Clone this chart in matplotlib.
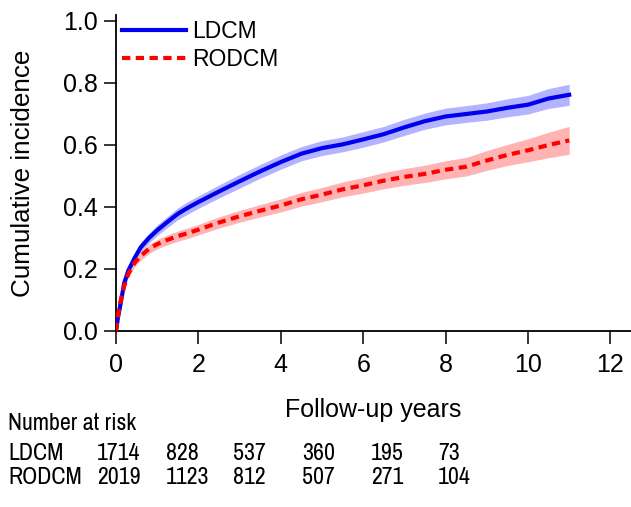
import matplotlib
matplotlib.use("Agg")
import matplotlib.pyplot as plt
from matplotlib import font_manager
import numpy as np

# ---- data ----
times = [0, 0.05, 0.1, 0.2, 0.3, 0.45, 0.6, 0.8, 1.0, 1.25, 1.5, 1.75, 2.0, 2.5, 3.0,
         3.5, 4.0, 4.5, 5.0, 5.5, 6.0, 6.5, 7.0, 7.5, 8.0, 8.5, 9.0, 9.5, 10.0, 10.5, 11.0]
ldcm = [0, 0.045, 0.08, 0.155, 0.195, 0.235, 0.27, 0.30, 0.325, 0.352, 0.378, 0.398, 0.416,
        0.45, 0.483, 0.515, 0.545, 0.572, 0.59, 0.602, 0.618, 0.635, 0.657, 0.677, 0.692,
        0.70, 0.708, 0.72, 0.73, 0.75, 0.762]
rodcm = [0, 0.05, 0.09, 0.145, 0.185, 0.22, 0.242, 0.265, 0.28, 0.294, 0.306, 0.316, 0.327,
         0.35, 0.37, 0.388, 0.405, 0.425, 0.44, 0.457, 0.47, 0.485, 0.497, 0.507, 0.52,
         0.53, 0.55, 0.568, 0.583, 0.60, 0.615]
ldcm_hw = [0, 0.008, 0.01, 0.012, 0.013, 0.014, 0.015, 0.016, 0.017, 0.018, 0.019, 0.02, 0.02,
           0.021, 0.022, 0.022, 0.023, 0.023, 0.024, 0.024, 0.025, 0.025, 0.026, 0.026, 0.027,
           0.027, 0.028, 0.029, 0.03, 0.032, 0.034]
rodcm_hw = [0, 0.008, 0.01, 0.011, 0.012, 0.013, 0.014, 0.015, 0.015, 0.016, 0.016, 0.017,
            0.017, 0.018, 0.019, 0.02, 0.021, 0.022, 0.023, 0.024, 0.025, 0.026, 0.027,
            0.028, 0.029, 0.03, 0.032, 0.034, 0.037, 0.041, 0.045]
groups = ["LDCM", "RODCM"]
risk_ldcm = [1714, 828, 537, 360, 195, 73]
risk_rodcm = [2019, 1123, 812, 507, 271, 104]

xticks = [0, 2, 4, 6, 8, 10, 12]
yticks = [0.0, 0.2, 0.4, 0.6, 0.8, 1.0]

# ---- fonts ----
flist = font_manager.fontManager.ttflist
names = {f.name for f in flist}
main_font = "Liberation Sans" if "Liberation Sans" in names else "DejaVu Sans"
narrow = [f.name for f in flist if ('Narrow' in f.name or 'Condensed' in f.name)
          and 'Bold' not in f.style]
if "Liberation Sans Narrow" in names:
    narrow_font, table_size = "Liberation Sans Narrow", 17
elif narrow:
    narrow_font, table_size = sorted(narrow)[0], 17.2
else:
    narrow_font, table_size = main_font, 14.2
plt.rcParams['font.family'] = [main_font, 'DejaVu Sans']

W, H = 631, 507
fig = plt.figure(figsize=(W / 100, H / 100), dpi=100)
ax = fig.add_axes([116 / W, (H - 331) / H, 1 - 116 / W, (331 - 14.8) / H])

t = np.array(times)
for vals, hw, band in [(ldcm, ldcm_hw, '#b3b3ff'), (rodcm, rodcm_hw, '#ffb3b3')]:
    v = np.array(vals); h = np.array(hw)
    ax.fill_between(t, v - h, v + h, color=band, lw=0, zorder=1)

l1, = ax.plot(t, ldcm, color='#0000ee', lw=3.0, zorder=3, label=groups[0])
l2, = ax.plot(t, rodcm, color='#ff0000', lw=3.0, ls=(0, (2.0, 1.3)), zorder=4, label=groups[1])

ax.set_xlim(0, 12.5)
ax.set_ylim(0, 1.02)
ax.set_xticks(xticks)
ax.set_yticks(yticks)
ax.set_xticklabels([str(x) for x in xticks])
ax.set_yticklabels([f"{y:.1f}" for y in yticks])
for s in ['top', 'right']:
    ax.spines[s].set_visible(False)
for s in ['left', 'bottom']:
    ax.spines[s].set_linewidth(1.3)
ax.tick_params(axis='both', length=9, width=1.1, labelsize=18)
ax.tick_params(axis='x', pad=7)
ax.tick_params(axis='y', pad=4)

ax.set_ylabel("Cumulative incidence", fontsize=18.7, labelpad=20)

leg = fig.legend(handles=[l1, l2], loc='upper left', bbox_to_anchor=(122 / W, 1 - 20 / H),
                 frameon=False, fontsize=16.5, handlelength=2.8, handletextpad=0.25,
                 labelspacing=0.22, borderpad=0, borderaxespad=0)

fig.text(373 / W, 1 - 410 / H, "Follow-up years", fontsize=18, ha='center', va='center')

tfam = [narrow_font, 'DejaVu Sans']
fig.text(8 / W, 1 - 423 / H, "Number at risk", fontsize=table_size, family=tfam,
         ha='left', va='center')
col_x = [97, 166, 233, 302, 371, 438]
for row_y, name, vals in [(453, groups[0], risk_ldcm), (477, groups[1], risk_rodcm)]:
    fig.text(8 / W, 1 - row_y / H, name, fontsize=table_size, family=tfam,
             ha='left', va='center')
    for cx, n in zip(col_x, vals):
        fig.text(cx / W, 1 - row_y / H, str(n), fontsize=table_size,
                 family=tfam, ha='left', va='center')

fig.savefig("out.png", dpi=100)
